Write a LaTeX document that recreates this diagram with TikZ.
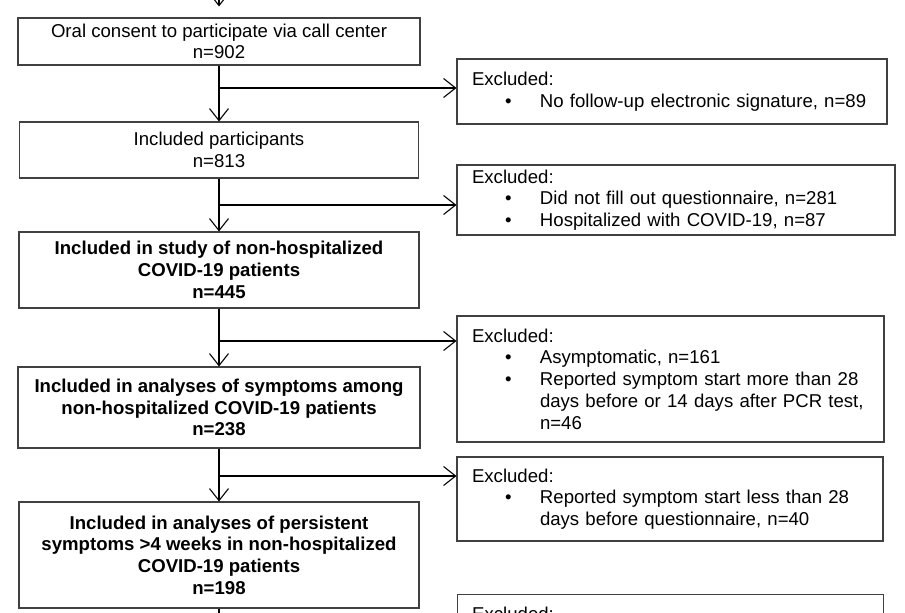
\documentclass[tikz,border=0pt]{standalone}
\usepackage{fontspec}
\setmainfont{Liberation Sans}
\usetikzlibrary{arrows.meta}
\newcommand\itm[1]{\hspace*{33pt}\makebox[35pt][l]{\textbullet}\parbox[t]{340pt}{#1}}
\begin{document}
\begin{tikzpicture}[x=1pt,y=-1pt,
  box/.style={draw=black!75, line width=1.1pt, inner sep=0pt, align=center, font=\fontsize{18.6}{21.7}\selectfont},
  boldbox/.style={box, font=\fontsize{18.6}{21.7}\selectfont\bfseries},
  ebox/.style={draw=black!75, line width=1.1pt, inner xsep=15pt, inner ysep=0pt, align=left, font=\fontsize{18.6}{21.7}\selectfont},
  arr/.style={line width=1.1pt, -{Straight Barb[length=12pt,width=19pt,line width=1.1pt]}},
  ln/.style={line width=1.1pt}]
\useasboundingbox (0,0) rectangle (905,613);
\clip (0,0) rectangle (905,613);

% main column
\node[box, minimum width=402pt, minimum height=47pt] (b1) at (219,41.5)
  {Oral consent to participate via call center\\n=902};
\node[box, minimum width=399pt, minimum height=56pt] (b2) at (219,150)
  {Included participants\\n=813};
\node[boldbox, minimum width=400pt, minimum height=76pt] (b3) at (219,270)
  {Included in study of non-hospitalized\\COVID-19 patients\\n=445};
\node[boldbox, minimum width=402pt, minimum height=81pt] (b4) at (219,407.5)
  {Included in analyses of symptoms among\\non-hospitalized COVID-19 patients\\n=238};
\node[boldbox, minimum width=400pt, minimum height=106pt] (b5) at (219,555)
  {Included in analyses of persistent\\symptoms >4 weeks in non-hospitalized\\COVID-19 patients\\n=198};

% exclusion boxes
\node[ebox, text width=400pt, minimum height=65pt] (e1) at (672,91.5)
  {Excluded:\\\itm{No follow-up electronic signature, n=89}};
\node[ebox, text width=408pt, minimum height=70pt] (e2) at (676,200)
  {Excluded:\\\itm{Did not fill out questionnaire, n=281}\\\itm{Hospitalized with COVID-19, n=87}};
\node[ebox, text width=397pt, minimum height=126pt] (e3) at (670.5,379)
  {Excluded:\\\itm{Asymptomatic, n=161}\\\itm{Reported symptom start more than 28\\days before or 14 days after PCR test,\\n=46}};
\node[ebox, text width=396pt, minimum height=84pt] (e4) at (670,499)
  {Excluded:\\\itm{Reported symptom start less than 28\\days before questionnaire, n=40}};
\node[ebox, text width=396pt, minimum height=130pt, anchor=north west] (e5) at (457,594) {};
\node[font=\fontsize{18.6}{21.7}\selectfont, anchor=base west, inner sep=0pt] (e5t) at (472,620) {Excluded:};

% junctions
\coordinate (t0) at (219,-5);
\coordinate (j1) at (219,88);
\coordinate (j2) at (219,205);
\coordinate (j3) at (219,341);
\coordinate (j4) at (219,476);
\coordinate (bend) at (219,630);

% connectors
\draw[arr, shorten >=11pt] (t0) -- (b1.north);
\draw[arr] (b1.south) -- (b2.north);
\draw[arr] (b2.south) -- (b3.north);
\draw[arr] (b3.south) -- (b4.north);
\draw[arr] (b4.south) -- (b5.north);
\draw[ln] (b5.south) -- (bend);
\draw[arr] (j1) -- (j1 -| e1.west);
\draw[arr] (j2) -- (j2 -| e2.west);
\draw[arr] (j3) -- (j3 -| e3.west);
\draw[arr] (j4) -- (j4 -| e4.west);
\end{tikzpicture}
\end{document}
